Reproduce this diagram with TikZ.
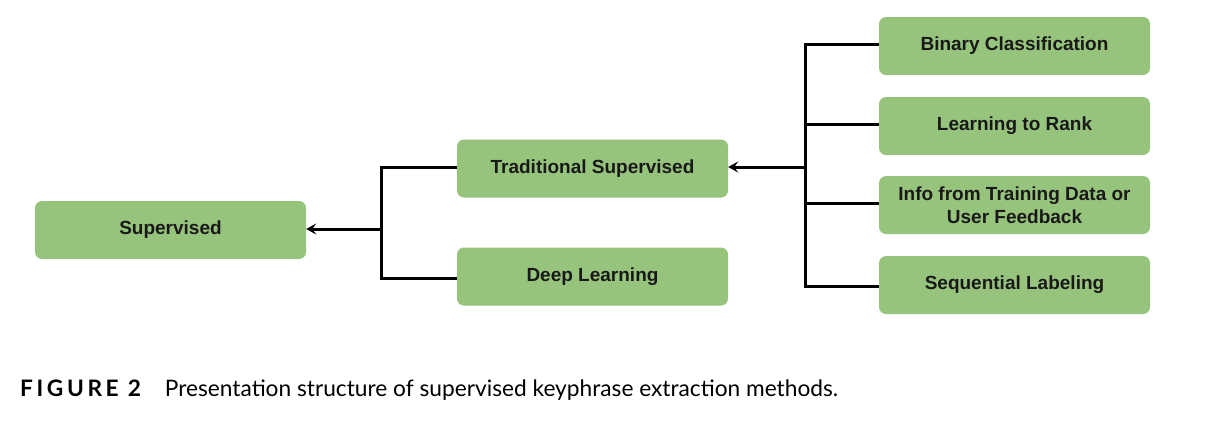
\documentclass[tikz,border=0pt]{standalone}
\usepackage{fontspec}
\setmainfont{Liberation Sans}
\newfontfamily\latofont{Lato}
\usetikzlibrary{arrows.meta}
\definecolor{boxgreen}{RGB}{151,196,125}
\tikzset{
  gbox/.style={fill=boxgreen, rounded corners=7pt, minimum width=271pt, minimum height=58pt,
    inner sep=0pt, align=center, font=\fontsize{19}{23}\selectfont\bfseries, text=black!90},
  conn/.style={line width=3pt, black},
  arr/.style={conn, -{Stealth[length=10pt,width=11pt,inset=4pt]}}
}
\begin{document}
\begin{tikzpicture}[x=1pt,y=-1pt]
\useasboundingbox[fill=white] (0,0) rectangle (1228,423);
\node[gbox] (sup) at (170.5,230) {Supervised};
\node[gbox] (trad) at (592.5,168.5) {Traditional Supervised};
\node[gbox] (deep) at (592.5,276.5) {Deep Learning};
\node[gbox] (bin) at (1014.5,46) {Binary Classification};
\node[gbox] (rank) at (1014.5,126) {Learning to Rank};
\node[gbox] (info) at (1014.5,205) {Info from Training Data or\\User Feedback};
\node[gbox] (seq) at (1014.5,285) {Sequential Labeling};
\coordinate (j1) at (381,229);
\coordinate (j2) at (805,167);
\draw[conn] ([yshift=1.5pt]trad.west) -| (j1) |- ([yshift=-1.5pt]deep.west);
\draw[arr] (j1) -- (sup.east |- j1);
\draw[conn] ([yshift=1.5pt]bin.west) -| (j2) |- ([yshift=-1.5pt]seq.west);
\draw[conn] ([yshift=1.5pt]rank.west) -- ([yshift=1.5pt]rank.west -| j2);
\draw[conn] ([yshift=1.5pt]info.west) -- ([yshift=1.5pt]info.west -| j2);
\draw[arr] (j2) -- (trad.east |- j2);
\node[anchor=base west, inner sep=0pt, font=\latofont\fontsize{22.7}{26}\selectfont] (cap) at (20,396)
  {{\bfseries F\kern3.6pt I\kern3.6pt G\kern3.6pt U\kern3.6pt R\kern3.6pt E\kern9pt 2}\hspace{24pt}Presentation structure of supervised keyphrase extraction methods.};
\end{tikzpicture}
\end{document}
